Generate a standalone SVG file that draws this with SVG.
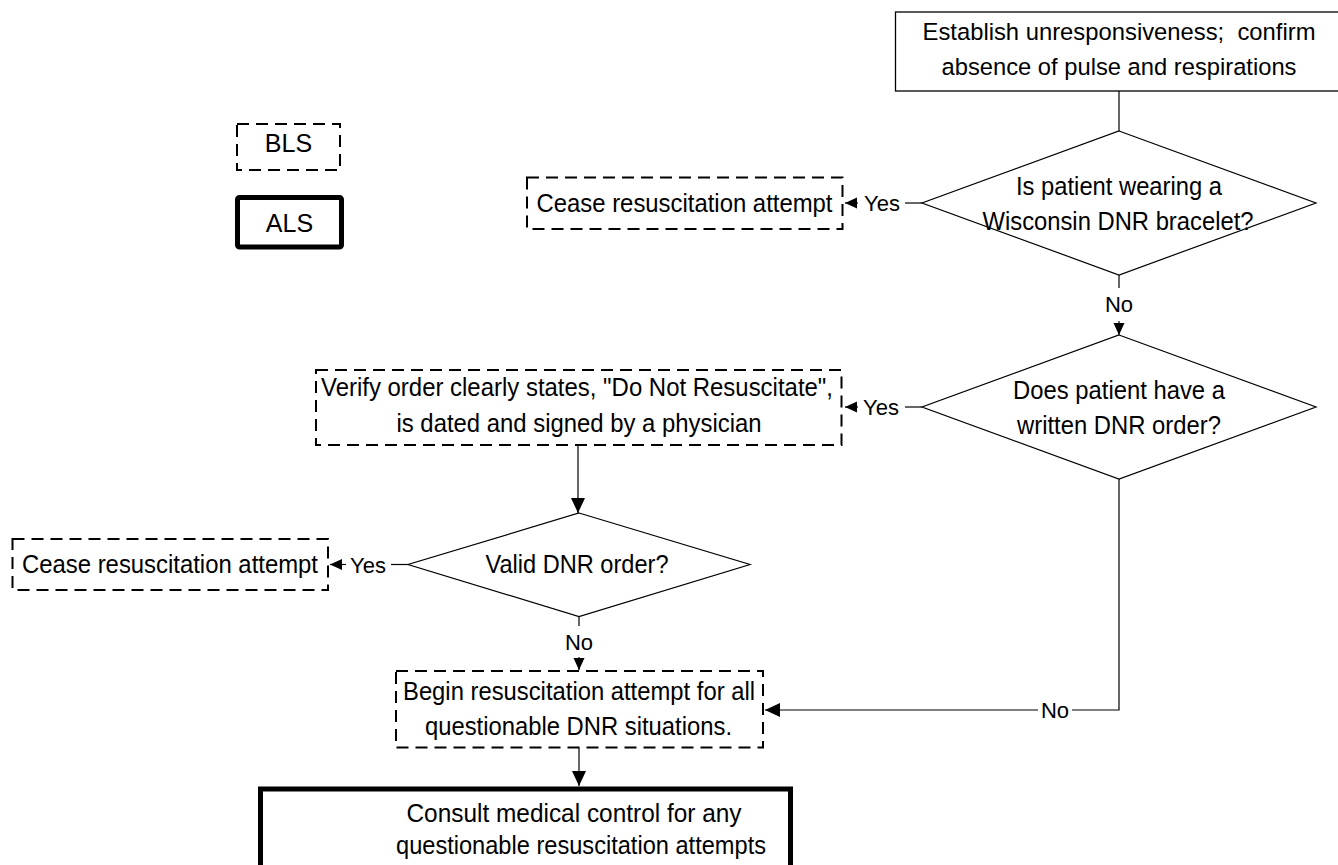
<svg xmlns="http://www.w3.org/2000/svg" width="1338" height="865" viewBox="0 0 1338 865">
<style>
.t{font-family:"Liberation Sans",Arial,sans-serif;font-size:25.5px;text-anchor:middle;fill:#000}
.lbl{font-family:"Liberation Sans",Arial,sans-serif;font-size:22px;text-anchor:middle;fill:#000}
.box{fill:#fff;stroke:#000;stroke-width:1.3}
.dash{fill:#fff;stroke:#000;stroke-width:2;stroke-dasharray:12 7}
.thick{fill:#fff;stroke:#000;stroke-width:5}
.dia{fill:#fff;stroke:#000;stroke-width:1.2}
.conn path{fill:none;stroke:#000;stroke-width:1.2}
</style>
<defs>
<marker id="as" markerUnits="userSpaceOnUse" markerWidth="13" markerHeight="12" refX="12" refY="5.5" orient="auto"><path d="M0,0 L12,5.5 L0,11 z" fill="#000"/></marker>
<marker id="ab" markerUnits="userSpaceOnUse" markerWidth="16" markerHeight="15" refX="15" refY="7" orient="auto"><path d="M0,0 L15,7 L0,14 z" fill="#000"/></marker>
</defs>
<rect width="1338" height="865" fill="#fff"/>

<g id="legend-bls"><rect class="dash" x="237" y="124" width="103" height="46"/><text class="t" x="288.5" y="152" style="font-size:25px">BLS</text></g>
<g id="legend-als"><rect class="thick" x="237.5" y="197.5" width="104" height="49.5" rx="2"/><text class="t" x="289.5" y="232" style="font-size:25px">ALS</text></g>

<g class="conn" id="connectors">
<path d="M1119,91 V131"/>
<path d="M922,203 H905"/><path d="M858,203 H845" marker-end="url(#as)"/>
<path d="M1119,275 V288"/><path d="M1119,321 V335" marker-end="url(#as)"/>
<path d="M922,407 H905"/><path d="M858,407 H845" marker-end="url(#as)"/>
<path d="M578,445 V513" marker-end="url(#ab)"/>
<path d="M408,564.5 H391"/><path d="M346,564.5 H330" marker-end="url(#as)"/>
<path d="M579,616.5 V626"/><path d="M579,657 V670" marker-end="url(#as)"/>
<path d="M1119,479 V710 H1072"/><path d="M1038,710 H765" marker-end="url(#ab)"/>
<path d="M579,747.5 V786" marker-end="url(#ab)"/>
<text class="lbl" x="882" y="211">Yes</text>
<text class="lbl" x="1119" y="312">No</text>
<text class="lbl" x="881" y="415">Yes</text>
<text class="lbl" x="368" y="572.5">Yes</text>
<text class="lbl" x="579" y="650">No</text>
<text class="lbl" x="1055" y="718">No</text>
</g>

<g id="start"><rect class="box" x="895.5" y="12" width="450" height="79"/>
<text class="t" x="1119" y="40" textLength="393" lengthAdjust="spacingAndGlyphs" style="font-size:24.5px">Establish unresponsiveness;&#160; confirm</text>
<text class="t" x="1119" y="75" textLength="355" lengthAdjust="spacingAndGlyphs" style="font-size:24.5px">absence of pulse and respirations</text></g>

<g id="bracelet"><polygon class="dia" points="1119,131 1316,203 1119,275 922,203"/>
<text class="t" x="1119" y="195" textLength="206" lengthAdjust="spacingAndGlyphs">Is patient wearing a</text>
<text class="t" x="1118" y="230" textLength="271" lengthAdjust="spacingAndGlyphs">Wisconsin DNR bracelet?</text></g>

<g id="cease1"><rect class="dash" x="527" y="177.5" width="315.5" height="51.5"/>
<text class="t" x="684.5" y="212" textLength="296" lengthAdjust="spacingAndGlyphs">Cease resuscitation attempt</text></g>

<g id="written"><polygon class="dia" points="1119,335 1316,407 1119,479 922,407"/>
<text class="t" x="1119" y="399" textLength="212" lengthAdjust="spacingAndGlyphs">Does patient have a</text>
<text class="t" x="1119" y="434" textLength="204" lengthAdjust="spacingAndGlyphs">written DNR order?</text></g>

<g id="verify"><rect class="dash" x="316" y="370" width="525.5" height="75"/>
<text class="t" x="577" y="396" textLength="512" lengthAdjust="spacingAndGlyphs">Verify order clearly states, "Do Not Resuscitate",</text>
<text class="t" x="579" y="432" textLength="365" lengthAdjust="spacingAndGlyphs">is dated and signed by a physician</text></g>

<g id="valid"><polygon class="dia" points="579,513 750,564.5 579,616.5 408,564.5"/>
<text class="t" x="577" y="573" textLength="183" lengthAdjust="spacingAndGlyphs">Valid DNR order?</text></g>

<g id="cease2"><rect class="dash" x="12.5" y="539" width="315.5" height="51"/>
<text class="t" x="170" y="573" textLength="296" lengthAdjust="spacingAndGlyphs">Cease resuscitation attempt</text></g>

<g id="begin"><rect class="dash" x="396" y="671" width="367" height="76.5"/>
<text class="t" x="579" y="700" textLength="352" lengthAdjust="spacingAndGlyphs">Begin resuscitation attempt for all</text>
<text class="t" x="578.5" y="735" textLength="307" lengthAdjust="spacingAndGlyphs">questionable DNR situations.</text></g>

<g id="consult"><rect class="thick" x="260.5" y="789" width="530" height="90"/>
<text class="t" x="574" y="822" textLength="335" lengthAdjust="spacingAndGlyphs">Consult medical control for any</text>
<text class="t" x="581" y="854" textLength="370" lengthAdjust="spacingAndGlyphs">questionable resuscitation attempts</text></g>
</svg>
